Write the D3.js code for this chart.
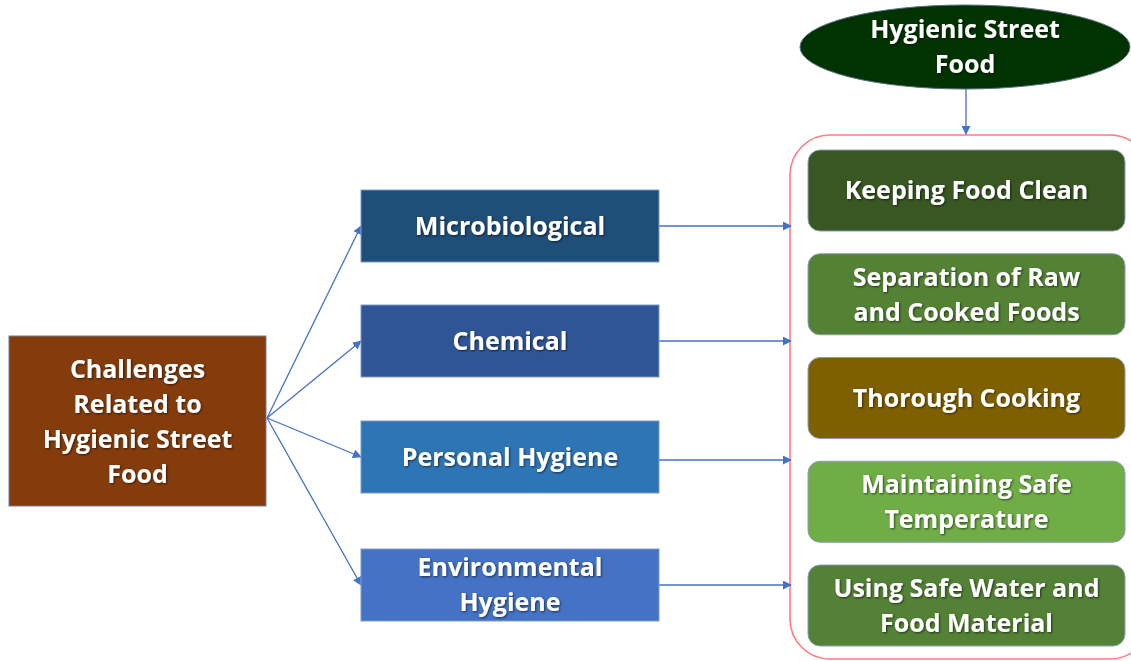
<!DOCTYPE html>
<html>
<head>
<meta charset="utf-8">
<script src="https://cdn.jsdelivr.net/npm/d3@7"></script>
<style>
  body { margin: 0; background: #fff; }
  svg { display: block; }
  text { font-family: "Open Sans", "Noto Sans", sans-serif; font-weight: 700; fill: #fff; }
</style>
</head>
<body>
<div id="canvas"></div>
<script>
// data
const rootLabel = ["Challenges", "Related to", "Hygienic Street", "Food"];
const goalLabel = ["Hygienic Street", "Food"];
const challenges = [["Microbiological"], ["Chemical"], ["Personal Hygiene"], ["Environmental", "Hygiene"]];
const challengeColors = ["#1f4e79", "#2f5597", "#2e75b6", "#4472c4"];
const practices = [["Keeping Food Clean"], ["Separation of Raw", "and Cooked Foods"], ["Thorough Cooking"],
  ["Maintaining Safe", "Temperature"], ["Using Safe Water and", "Food Material"]];
const practiceColors = ["#385723", "#548235", "#7f6000", "#70ad47", "#538135"];

// layout
const width = 1131, height = 661;
const challengeTops = [190, 305, 421, 549];
const lineH = 35;
const fontSize = 25;

const svg = d3.select("#canvas").append("svg").attr("width", width).attr("height", height);

const defs = svg.append("defs");
defs.append("marker").attr("id", "arr").attr("viewBox", "0 0 10 10")
  .attr("refX", 9).attr("refY", 5).attr("markerWidth", 9).attr("markerHeight", 9)
  .attr("markerUnits", "userSpaceOnUse").attr("orient", "auto")
  .append("path").attr("d", "M0,0L10,5L0,10z").attr("fill", "#4472c4");
const f = defs.append("filter").attr("id", "sh").attr("x", "-10%").attr("y", "-20%").attr("width", "120%").attr("height", "140%");
f.append("feDropShadow").attr("dx", 1).attr("dy", 1).attr("stdDeviation", 0.8)
  .attr("flood-color", "#000").attr("flood-opacity", 0.6);

function label(g, lines, cx, cy, size) {
  const t = g.append("text").attr("text-anchor", "middle").attr("font-size", size).attr("filter", "url(#sh)");
  const y0 = cy - (lines.length - 1) * lineH / 2;
  lines.forEach((l, i) => t.append("tspan").attr("x", cx).attr("y", y0 + i * lineH).attr("dy", "0.35em").text(l));
}

// middle column
const mid = { x: 361, w: 298, h: 72 };
const yMid = d3.scaleOrdinal().domain(d3.range(challenges.length)).range(challengeTops);

// right column
const right = { x: 808, w: 317 };
const yRight = d3.scaleBand().domain(d3.range(practices.length)).range([150, 646]).paddingInner(0.219).paddingOuter(0);

// root box
const root = { x: 9, y: 336, w: 257, h: 170 };
const origin = [267, 418];

// arrows root -> challenges
svg.append("g").selectAll("line").data(challenges).join("line")
  .attr("x1", origin[0]).attr("y1", origin[1])
  .attr("x2", mid.x).attr("y2", (d, i) => yMid(i) + mid.h / 2)
  .attr("stroke", "#4472c4").attr("stroke-width", 1.3).attr("marker-end", "url(#arr)");

// container
svg.append("rect").attr("x", 790).attr("y", 135).attr("width", 360).attr("height", 524)
  .attr("rx", 40).attr("fill", "none").attr("stroke", "#ff7c80").attr("stroke-width", 1.6);

// arrows challenges -> container
svg.append("g").selectAll("line").data(challenges).join("line")
  .attr("x1", mid.x + mid.w).attr("x2", 791)
  .attr("y1", (d, i) => yMid(i) + mid.h / 2 + (i === 2 ? 3 : 0))
  .attr("y2", (d, i) => yMid(i) + mid.h / 2 + (i === 2 ? 3 : 0))
  .attr("stroke", "#4472c4").attr("stroke-width", 1.3).attr("marker-end", "url(#arr)");

// goal -> container
svg.append("line").attr("x1", 966).attr("y1", 89).attr("x2", 966).attr("y2", 134)
  .attr("stroke", "#4472c4").attr("stroke-width", 1.3).attr("marker-end", "url(#arr)");

// root
svg.append("rect").attr("x", root.x).attr("y", root.y).attr("width", root.w).attr("height", root.h)
  .attr("fill", "#843c0c").attr("stroke", "#6d7fa0").attr("stroke-width", 1);
label(svg, rootLabel, root.x + root.w / 2, root.y + root.h / 2 + 1, fontSize);

// challenge boxes
const cg = svg.append("g").selectAll("g").data(challenges).join("g");
cg.append("rect").attr("x", mid.x).attr("y", (d, i) => yMid(i))
  .attr("width", mid.w).attr("height", mid.h)
  .attr("fill", (d, i) => challengeColors[i]).attr("stroke", "#7f9cc9").attr("stroke-width", 1);
cg.each(function (d, i) { label(d3.select(this), d, mid.x + mid.w / 2, yMid(i) + mid.h / 2, fontSize); });

// practice boxes
const pg = svg.append("g").selectAll("g").data(practices).join("g");
pg.append("rect").attr("x", right.x).attr("y", (d, i) => yRight(i))
  .attr("width", right.w).attr("height", yRight.bandwidth()).attr("rx", 12)
  .attr("fill", (d, i) => practiceColors[i]).attr("stroke", "#8aa0b8").attr("stroke-width", 1);
pg.each(function (d, i) { label(d3.select(this), d, right.x + right.w / 2, yRight(i) + yRight.bandwidth() / 2, fontSize); });

// goal ellipse
svg.append("ellipse").attr("cx", 965).attr("cy", 47).attr("rx", 165).attr("ry", 42)
  .attr("fill", "#003300").attr("stroke", "#5a6f8a").attr("stroke-width", 1);
label(svg, goalLabel, 965, 47, fontSize);
</script>
</body>
</html>
